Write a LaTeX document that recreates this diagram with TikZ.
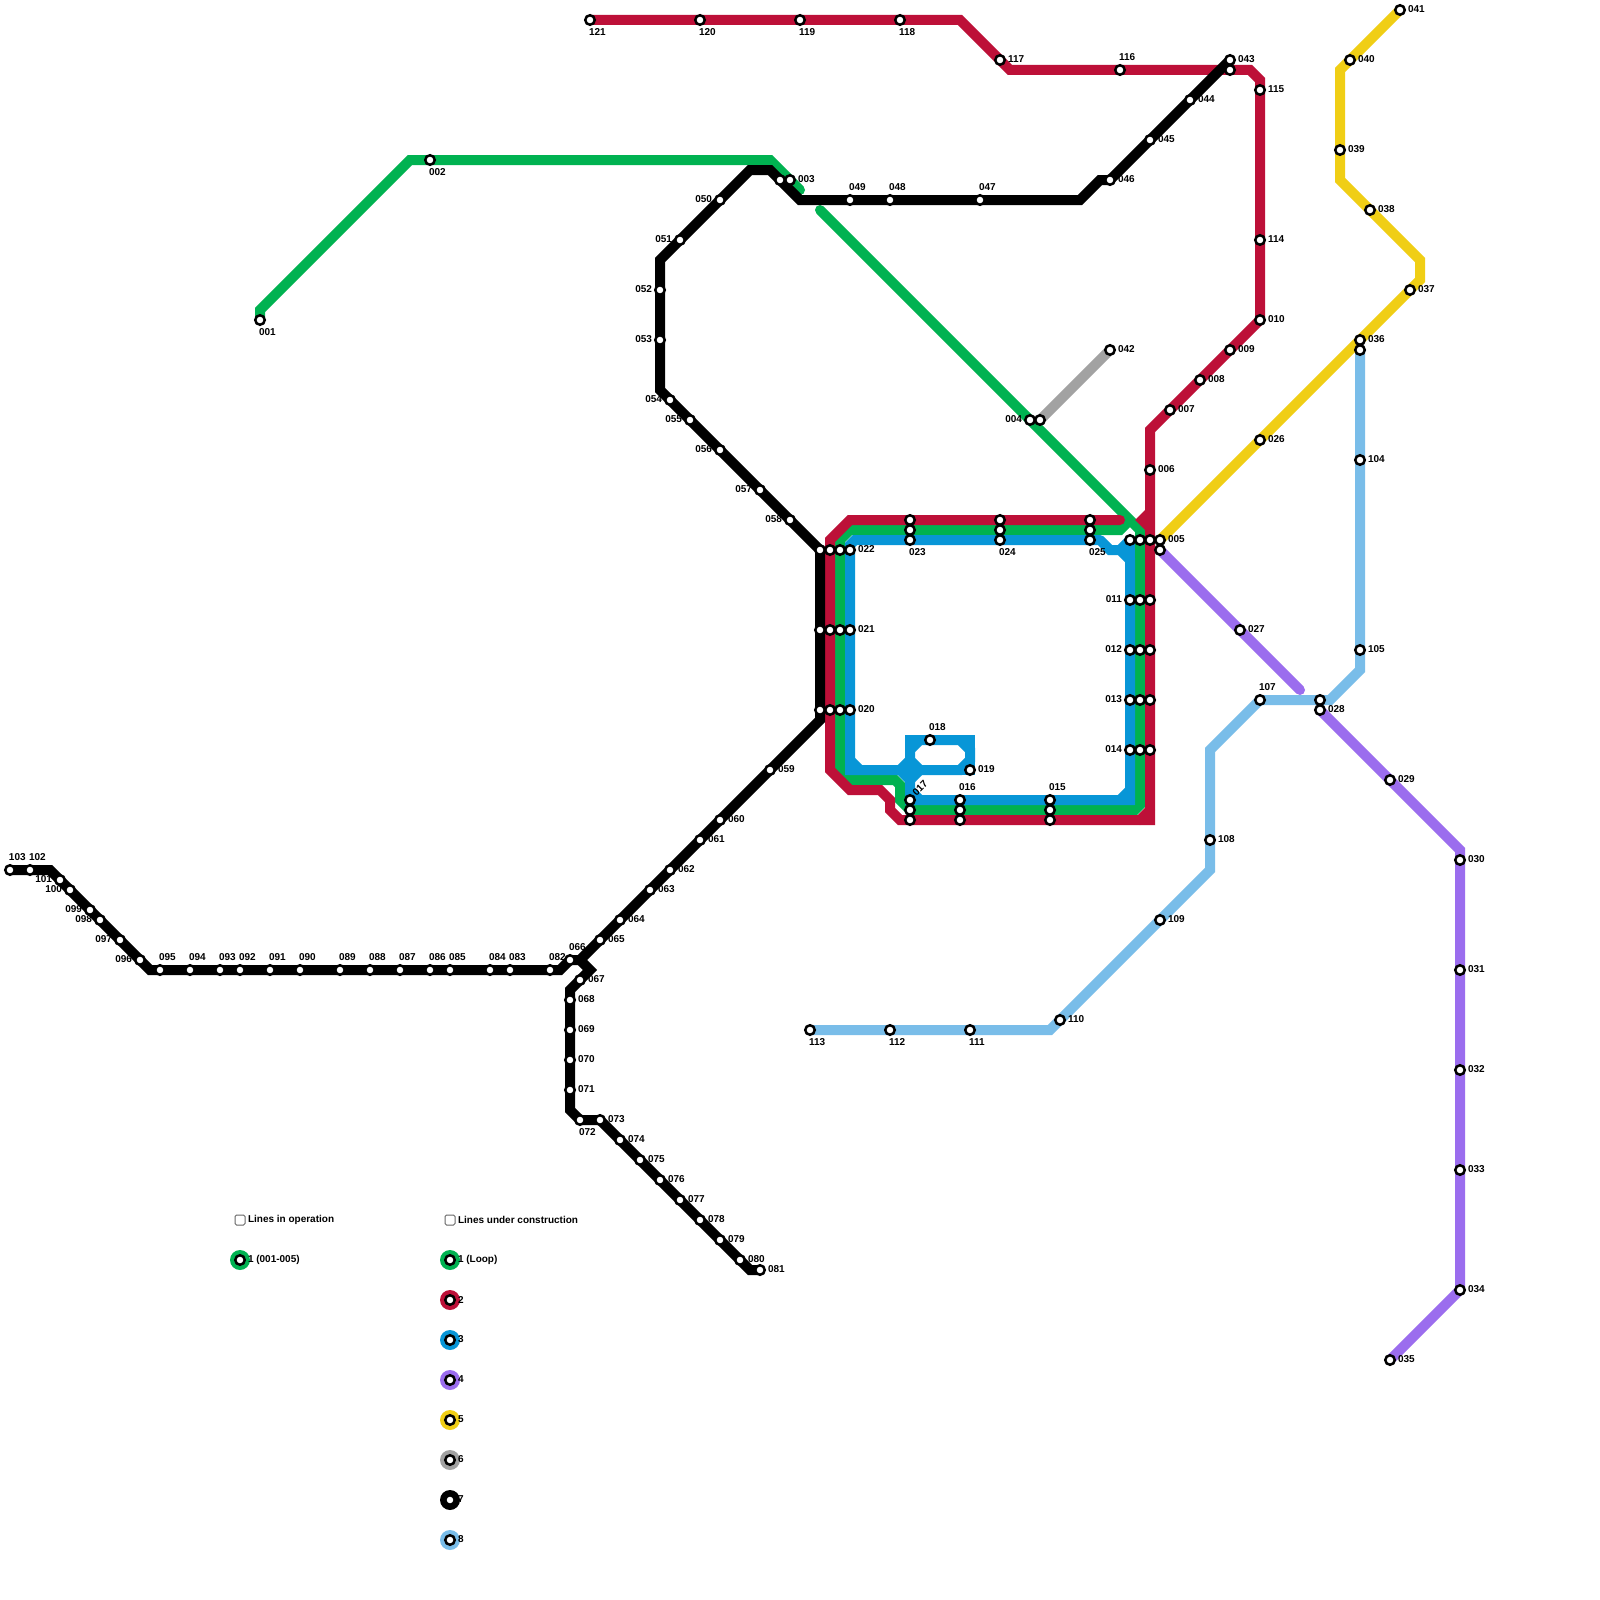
\documentclass[tikz,border=0pt]{standalone}
\usepackage{fontspec}
\setmainfont{Liberation Sans}
\definecolor{lgreen}{HTML}{00B251}
\definecolor{lred}{HTML}{BD1038}
\definecolor{lblue}{HTML}{0896D7}
\definecolor{lpurple}{HTML}{9B6DEE}
\definecolor{lyellow}{HTML}{F0CE15}
\definecolor{lgrey}{HTML}{A2A2A2}
\definecolor{lsky}{HTML}{79BDE9}
\tikzset{
  metro/.style={line width=10pt,line cap=round,line join=miter},
  station/.style={circle,draw=black,fill=white,line width=2.5pt,minimum size=9.5pt,inner sep=0pt,outer sep=0pt},
  lbl/.style={inner sep=0pt,outer sep=0pt,font=\fontsize{10}{10}\selectfont\bfseries},
  lblR/.style={lbl,anchor=west,xshift=8pt,yshift=0.5pt},
  lblL/.style={lbl,anchor=east,xshift=-8pt,yshift=0.5pt},
  lblA/.style={lbl,anchor=west,xshift=-1pt,yshift=13pt},
  lblB/.style={lbl,anchor=west,xshift=-1pt,yshift=-12pt},
  lblT/.style={lbl,xshift=10pt,yshift=11.5pt,rotate=45},
  legendring/.style={circle,minimum size=20pt,inner sep=0pt,outer sep=0pt},
  legendbox/.style={rectangle,draw=black!60,line width=1pt,rounded corners=1.5pt,minimum size=10pt,inner sep=0pt}
}
\begin{document}
\begin{tikzpicture}[x=1pt,y=-1pt]
\useasboundingbox[fill=white] (0,0) rectangle (1600,1600);
% labelled stations
\foreach \n/\x/\y/\d in {
001/260/320/B,002/430/160/B,003/790/180/R,004/1030/420/L,005/1160/540/R,006/1150/470/R,007/1170/410/R,008/1200/380/R,009/1230/350/R,010/1260/320/R,
011/1130/600/L,012/1130/650/L,013/1130/700/L,014/1130/750/L,015/1050/800/A,016/960/800/A,017/910/800/T,018/930/740/A,019/970/770/R,020/850/710/R,
021/850/630/R,022/850/550/R,023/910/540/B,024/1000/540/B,025/1090/540/B,026/1260/440/R,027/1240/630/R,028/1320/710/R,029/1390/780/R,030/1460/860/R,
031/1460/970/R,032/1460/1070/R,033/1460/1170/R,034/1460/1290/R,035/1390/1360/R,036/1360/340/R,037/1410/290/R,038/1370/210/R,039/1340/150/R,040/1350/60/R,
041/1400/10/R,042/1110/350/R,043/1230/60/R,044/1190/100/R,045/1150/140/R,046/1110/180/R,047/980/200/A,048/890/200/A,049/850/200/A,050/720/200/L,
051/680/240/L,052/660/290/L,053/660/340/L,054/670/400/L,055/690/420/L,056/720/450/L,057/760/490/L,058/790/520/L,059/770/770/R,060/720/820/R,
061/700/840/R,062/670/870/R,063/650/890/R,064/620/920/R,065/600/940/R,066/570/960/A,067/580/980/R,068/570/1000/R,069/570/1030/R,070/570/1060/R,
071/570/1090/R,072/580/1120/B,073/600/1120/R,074/620/1140/R,075/640/1160/R,076/660/1180/R,077/680/1200/R,078/700/1220/R,079/720/1240/R,080/740/1260/R,
081/760/1270/R,082/550/970/A,083/510/970/A,084/490/970/A,085/450/970/A,086/430/970/A,087/400/970/A,088/370/970/A,089/340/970/A,090/300/970/A,
091/270/970/A,092/240/970/A,093/220/970/A,094/190/970/A,095/160/970/A,096/140/960/L,097/120/940/L,098/100/920/L,099/90/910/L,100/70/890/L,
101/60/880/L,102/30/870/A,103/10/870/A,104/1360/460/R,105/1360/650/R,107/1260/700/A,108/1210/840/R,109/1160/920/R,110/1060/1020/R,111/970/1030/B,
112/890/1030/B,113/810/1030/B,114/1260/240/R,115/1260/90/R,116/1120/70/A,117/1000/60/R,118/900/20/B,119/800/20/B,120/700/20/B,121/590/20/B}
  {\coordinate (s\n) at (\x,\y);}
% unlabelled stations
\foreach \n/\x/\y in {
a1/780/180,a2/1040/420,a3/1230/70,a4/1360/350,a5/1320/700,a6/1160/550,
b1/820/550,b2/830/550,b3/840/550,c1/820/630,c2/830/630,c3/840/630,d1/820/710,d2/830/710,d3/840/710,
e1/910/520,e2/910/530,f1/1000/520,f2/1000/530,g1/1090/520,g2/1090/530,
h1/1130/540,h2/1140/540,h3/1150/540,
i1/1140/600,i2/1150/600,j1/1140/650,j2/1150/650,k1/1140/700,k2/1150/700,l1/1140/750,l2/1150/750,
m1/1050/810,m2/1050/820,n1/960/810,n2/960/820,o1/910/810,o2/910/820}
  {\coordinate (s\n) at (\x,\y);}
% bends and free ends
\foreach \n/\x/\y in {
gA/260/310,gB/410/160,gC/770/160,gD/800/190,
hA/820/210,hB/1140/530,hC/1140/805,hD/1135/810,hE/910/810,hF/900/800,hG/900/785,hH/895/780,hI/850/780,hJ/840/770,hK/840/540,hL/850/530,hM/1120/530,hN/1130/520,
rA/960/20,rB/1010/70,rC/1250/70,rD/1260/80,rE/1150/430,rF/1150/820,rG/900/820,rH/890/810,rI/890/800,rJ/880/790,rK/850/790,rL/830/770,rM/830/540,rN/850/520,rO/1120/520,
rP/1150/810,rQ/1140/820,wA/1135/520,wB/1150/505,wC/1150/535,
uA/855/540,uB/850/545,uC/850/770,uD/850/760,uE/860/770,uF/900/770,uG/910/780,uH/910/790,uI/920/800,uJ/910/800,uK/1130/800,uL/1120/800,uM/1130/790,uN/1130/560,uO/1120/550,uP/1110/550,uQ/1100/540,uR/910/760,
vA/910/740,vB/970/740,vC/910/770,vD/910/750,vE/920/740,vF/960/740,vG/970/750,vH/970/760,vI/960/770,vJ/920/770,
kA/50/870,kB/150/970,kC/560/970,kD/580/960,kE/820/720,kF/590/970,kG/570/990,kH/570/1110,kI/750/1270,kJ/660/390,kK/660/260,kL/750/170,kM/770/170,kN/800/200,kO/1080/200,kP/1100/180,
yA/1340/70,yB/1340/180,yC/1420/260,yD/1420/280,
pA/1300/690,pB/1460/850,
qA/1360/670,qB/1330/700,qC/1210/750,qD/1210/870,qE/1050/1030}
  {\coordinate (\n) at (\x,\y);}
% line 6
\draw[metro,lgrey] (sa2) -- (s042);
% line 4
\draw[metro,lpurple] (sa6) -- (pA);
\draw[metro,lpurple] (s028) -- (pB) -- (s034) -- (s035);
% line 5
\draw[metro,lyellow] (s041) -- (yA) -- (yB) -- (yC) -- (yD) -- (s005);
% line 8
\draw[metro,lsky] (sa4) -- (qA) -- (qB) -- (sa5) -- (s107) -- (qC) -- (qD) -- (qE) -- (s113);
% line 1
\draw[metro,lgreen] (s001) -- (gA) -- (gB) -- (gC) -- (gD);
\draw[metro,lgreen] (hA) -- (hB) -- (hC) -- (hD) -- (hE) -- (hF) -- (hG) -- (hH) -- (hI) -- (hJ) -- (hK) -- (hL) -- (hM) -- (hN);
% line 2
\draw[metro,lred] (s121) -- (rA) -- (rB) -- (rC) -- (rD) -- (s010) -- (rE) -- (rF) -- (rG) -- (rH) -- (rI) -- (rJ) -- (rK) -- (rL) -- (rM) -- (rN) -- (rO);
\draw[metro,lred] (rP) -- (rQ);
\fill[lred] (wA) -- (wB) -- (wC) -- cycle;
% line 3
\draw[metro,lblue] (uQ) -- (uA) -- (uB) -- (uC) -- (uF) -- (uG) -- (uJ) -- (uK) -- (uN) -- (uO) -- (uP) -- (uQ);
\draw[metro,lblue,line cap=butt] (uD) -- (uE);
\draw[metro,lblue,line cap=butt] (uF) -- (uR);
\draw[metro,lblue,line cap=butt] (uH) -- (uI);
\draw[metro,lblue,line cap=butt] (uL) -- (uM);
\draw[metro,lblue,line cap=butt] (uO) -- (sh1);
\draw[metro,lblue,line cap=butt] (uM) -- (sh1);
\draw[metro,lblue,line cap=butt] (vJ) -- (uG);
\draw[metro,lblue] (vA) -- (vB) -- (s019) -- (vC) -- cycle;
\draw[metro,lblue] (vD) -- (vE) -- (vF) -- (vG) -- (vH) -- (vI) -- (vJ) -- (uR) -- cycle;
% line 7
\draw[metro,black] (s103) -- (kA) -- (kB) -- (kC) -- (s066) -- (kD) -- (kE) -- (sb1) -- (kJ) -- (kK) -- (kL) -- (kM) -- (kN) -- (kO) -- (kP) -- (s046) -- (s043);
\draw[metro,black] (kD) -- (kF) -- (kG) -- (kH) -- (s072) -- (s073) -- (kI) -- (s081);
% stations
\foreach \n in {001,002,003,004,005,006,007,008,009,010,011,012,013,014,015,016,017,018,019,020,021,022,023,024,025,026,027,028,029,030,031,032,033,034,035,036,037,038,039,040,041,042,043,044,045,046,047,048,049,050,051,052,053,054,055,056,057,058,059,060,061,062,063,064,065,066,067,068,069,070,071,072,073,074,075,076,077,078,079,080,081,082,083,084,085,086,087,088,089,090,091,092,093,094,095,096,097,098,099,100,101,102,103,104,105,107,108,109,110,111,112,113,114,115,116,117,118,119,120,121,a1,a2,a3,a4,a5,a6,b1,b2,b3,c1,c2,c3,d1,d2,d3,e1,e2,f1,f2,g1,g2,h1,h2,h3,i1,i2,j1,j2,k1,k2,l1,l2,m1,m2,n1,n2,o1,o2}
  {\node[station] (n\n) at (s\n) {};}
% station labels
\foreach \n/\d in {001/B,002/B,003/R,004/L,005/R,006/R,007/R,008/R,009/R,010/R,011/L,012/L,013/L,014/L,015/A,016/A,017/T,018/A,019/R,020/R,021/R,022/R,023/B,024/B,025/B,026/R,027/R,028/R,029/R,030/R,031/R,032/R,033/R,034/R,035/R,036/R,037/R,038/R,039/R,040/R,041/R,042/R,043/R,044/R,045/R,046/R,047/A,048/A,049/A,050/L,051/L,052/L,053/L,054/L,055/L,056/L,057/L,058/L,059/R,060/R,061/R,062/R,063/R,064/R,065/R,066/A,067/R,068/R,069/R,070/R,071/R,072/B,073/R,074/R,075/R,076/R,077/R,078/R,079/R,080/R,081/R,082/A,083/A,084/A,085/A,086/A,087/A,088/A,089/A,090/A,091/A,092/A,093/A,094/A,095/A,096/L,097/L,098/L,099/L,100/L,101/L,102/A,103/A,104/R,105/R,107/A,108/R,109/R,110/R,111/B,112/B,113/B,114/R,115/R,116/A,117/R,118/B,119/B,120/B,121/B}
  {\node[lbl\d] (t\n) at (s\n) {\n};}
% legend
\node[legendbox] (boxA) at (240,1220) {};
\node[lblR] (headA) at (240,1220) {Lines in operation};
\node[legendbox] (boxB) at (450,1220) {};
\node[lblR] (headB) at (450,1220) {Lines under construction};
\foreach \n/\x/\y/\c/\t in {A/240/1260/lgreen/1 (001-005),B/450/1260/lgreen/1 (Loop),C/450/1300/lred/2,D/450/1340/lblue/3,E/450/1380/lpurple/4,F/450/1420/lyellow/5,G/450/1460/lgrey/6,H/450/1500/black/7,I/450/1540/lsky/8}{
  \node[legendring,fill=\c] (ring\n) at (\x,\y) {};
  \node[station] (dot\n) at (\x,\y) {};
  \node[lblR] (txt\n) at (\x,\y) {\t};
}
\end{tikzpicture}
\end{document}
